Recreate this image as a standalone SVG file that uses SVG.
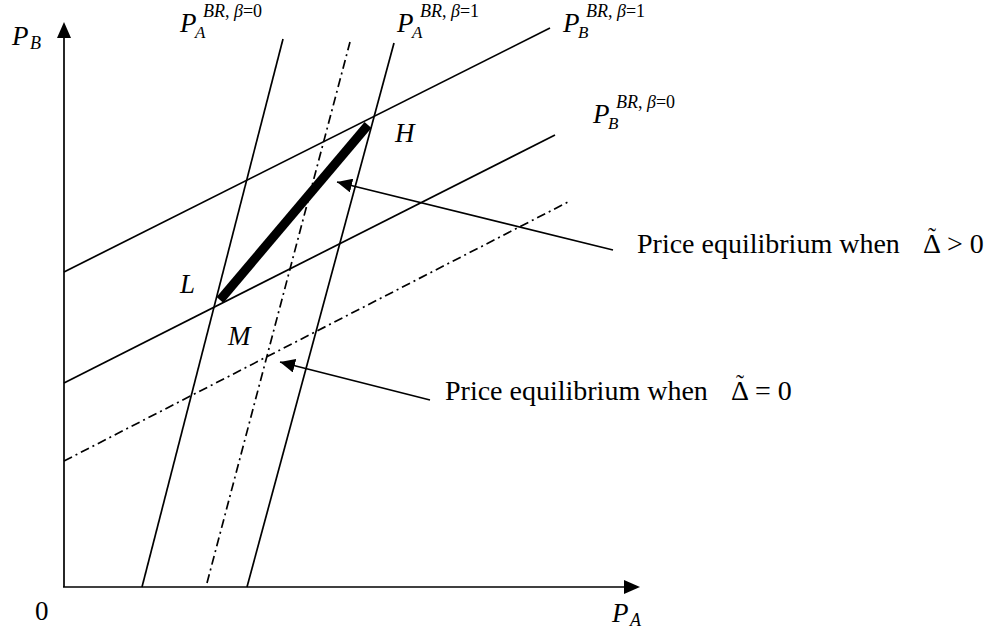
<svg xmlns="http://www.w3.org/2000/svg" width="991" height="630" viewBox="0 0 991 630">
<style>
.ln{stroke:#000;stroke-width:1.7;fill:none}
.dd{stroke:#000;stroke-width:1.7;fill:none;stroke-dasharray:9 4 2 4}
.m{font-family:"Liberation Serif","Times New Roman",serif;font-style:italic;fill:#000}
.t{font-family:"Liberation Serif","Times New Roman",serif;fill:#000}
</style>
<defs>
<marker id="ah" markerUnits="userSpaceOnUse" markerWidth="16" markerHeight="14" refX="15" refY="7" orient="auto">
<path d="M0,0 L15,7 L0,14 Z" fill="#000"/>
</marker>
</defs>
<g id="axes">
<line class="ln" x1="64" y1="587" x2="64" y2="36"/>
<path d="M64,22 L57,38 L71,38 Z" fill="#000"/>
<line class="ln" x1="63" y1="587" x2="626" y2="587"/>
<path d="M640,587 L624,580 L624,594 Z" fill="#000"/>
</g>
<g id="connectors">
<line id="PA0" class="ln" x1="142" y1="587" x2="283" y2="39"/>
<line id="PA1" class="ln" x1="247" y1="587" x2="394" y2="43"/>
<line id="PAd" class="dd" x1="207" y1="583" x2="350" y2="42"/>
<line id="PB1" class="ln" x1="64" y1="272" x2="550" y2="28"/>
<line id="PB0" class="ln" x1="64" y1="383" x2="555" y2="135"/>
<line id="PBd" class="dd" x1="64" y1="461" x2="568" y2="202"/>
<line id="eq" x1="220" y1="300" x2="368" y2="125" stroke="#000" stroke-width="9"/>
<line id="ptr1" class="ln" x1="613" y1="250" x2="337" y2="182" marker-end="url(#ah)"/>
<line id="ptr2" class="ln" x1="430" y1="400" x2="280" y2="362" marker-end="url(#ah)"/>
</g>
<g id="label-PB-axis">
<text class="m" x="12" y="45" font-size="27">P</text>
<text class="m" x="30" y="49" font-size="18">B</text>
</g>
<g id="label-PA-axis">
<text class="m" x="612" y="622" font-size="27">P</text>
<text class="m" x="630" y="626" font-size="18">A</text>
</g>
<g id="label-zero">
<text class="t" x="35" y="620" font-size="27">0</text>
</g>
<g id="label-PA-b0">
<text class="m" x="180" y="32" font-size="27">P</text>
<text class="m" x="203" y="17" font-size="18">BR<tspan font-style="normal">,</tspan> β<tspan font-style="normal">=0</tspan></text>
<text class="m" x="195" y="38" font-size="17">A</text>
</g>
<g id="label-PA-b1">
<text class="m" x="397" y="32" font-size="27">P</text>
<text class="m" x="420" y="17" font-size="18">BR<tspan font-style="normal">,</tspan> β<tspan font-style="normal">=1</tspan></text>
<text class="m" x="412" y="38" font-size="17">A</text>
</g>
<g id="label-PB-b1">
<text class="m" x="563" y="32" font-size="27">P</text>
<text class="m" x="586" y="17" font-size="18">BR<tspan font-style="normal">,</tspan> β<tspan font-style="normal">=1</tspan></text>
<text class="m" x="578" y="38" font-size="17">B</text>
</g>
<g id="label-PB-b0">
<text class="m" x="593" y="123" font-size="27">P</text>
<text class="m" x="616" y="108" font-size="18">BR<tspan font-style="normal">,</tspan> β<tspan font-style="normal">=0</tspan></text>
<text class="m" x="608" y="129" font-size="17">B</text>
</g>
<g id="node-H"><text class="m" x="395" y="142" font-size="27">H</text></g>
<g id="node-L"><text class="m" x="180" y="293" font-size="27">L</text></g>
<g id="node-M"><text class="m" x="228" y="345" font-size="27">M</text></g>
<g id="text-pos">
<text class="t" x="637" y="253" font-size="28">Price equilibrium when</text>
<text class="t" x="923" y="253" font-size="28">Δ<tspan dx="-13" dy="-9" font-size="24">˜</tspan><tspan dx="4" dy="9"> &gt; 0</tspan></text>
</g>
<g id="text-zero">
<text class="t" x="445" y="400" font-size="28">Price equilibrium when</text>
<text class="t" x="731" y="400" font-size="28">Δ<tspan dx="-13" dy="-9" font-size="24">˜</tspan><tspan dx="4" dy="9"> = 0</tspan></text>
</g>
</svg>
